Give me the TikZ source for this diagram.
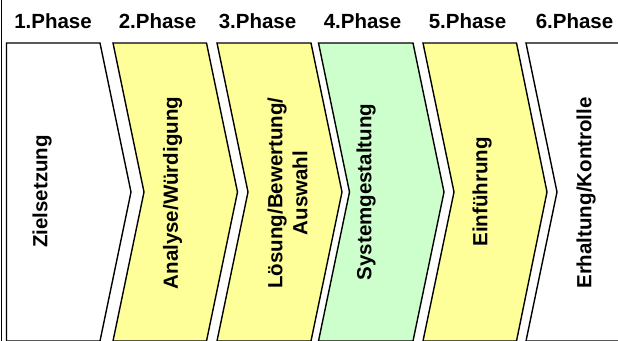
\documentclass[tikz,border=0pt]{standalone}
\usepackage{fontspec}
\setmainfont{Liberation Sans}
\definecolor{phaseyellow}{HTML}{FFFF99}
\definecolor{phasegreen}{HTML}{CCFFCC}
\begin{document}
\begin{tikzpicture}[x=1pt,y=-1pt,
  phasehead/.style={font=\bfseries\fontsize{20.5}{24}\selectfont, anchor=base, inner sep=0pt},
  steplabel/.style={font=\bfseries\fontsize{20.5}{25}\selectfont, rotate=90, align=center, inner sep=0pt},
  chev/.style={draw=black, line width=1.4pt, line join=miter}]
\useasboundingbox (0,0) rectangle (618,340);
\begin{scope}
\clip (0,0) rectangle (618,340);
% outer frame line on the left
\draw[line width=1.4pt] (1.5,-5) -- (1.5,350);
% chevron geometry: top 43, tip 192, bottom 341, depth 31
\def\T{43}\def\M{192}\def\B{341}
% 1: white, flat left side
\path[chev, fill=white] (6.5,\T) -- (100,\T) -- (131,\M) -- (100,\B) -- (6.5,\B) -- cycle;
% 2: yellow
\path[chev, fill=phaseyellow] (113,\T) -- (206.5,\T) -- (237.5,\M) -- (206.5,\B) -- (113,\B) -- (144,\M) -- cycle;
% 3: yellow
\path[chev, fill=phaseyellow] (217,\T) -- (311,\T) -- (342,\M) -- (311,\B) -- (217,\B) -- (248,\M) -- cycle;
% 4: green
\path[chev, fill=phasegreen] (318.5,\T) -- (413,\T) -- (444,\M) -- (413,\B) -- (318.5,\B) -- (349.5,\M) -- cycle;
% 5: yellow
\path[chev, fill=phaseyellow] (423,\T) -- (516.5,\T) -- (547,\M) -- (516.5,\B) -- (423,\B) -- (454,\M) -- cycle;
% 6: white, open to the right
\path[chev, fill=white] (526,\T) -- (625,\T) -- (625,\B) -- (526,\B) -- (557,\M) -- cycle;
\end{scope}
% phase headings
\node[phasehead] (h1) at (53,28.5) {1.Phase};
\node[phasehead] (h2) at (157.5,28.5) {2.Phase};
\node[phasehead] (h3) at (257.5,28.5) {3.Phase};
\node[phasehead] (h4) at (362.5,28.5) {4.Phase};
\node[phasehead] (h5) at (467.5,28.5) {5.Phase};
\node[phasehead] (h6) at (574.5,28.5) {6.Phase};
% step labels
\node[steplabel] (s1) at (42,191.5) {Zielsetzung};
\node[steplabel] (s2) at (172.5,193) {Analyse/Würdigung};
\node[steplabel] (s3) at (287.5,193) {Lösung/Bewertung/\\Auswahl};
\node[steplabel] (s4) at (366,192) {Systemgestaltung};
\node[steplabel] (s5) at (482,192) {Einführung};
\node[steplabel] (s6) at (586,193) {Erhaltung/Kontrolle};
\end{tikzpicture}
\end{document}
